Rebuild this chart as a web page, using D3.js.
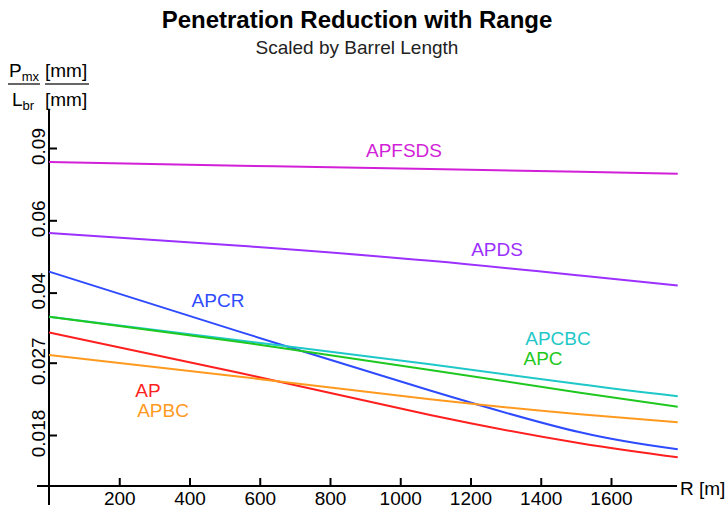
<!DOCTYPE html>
<html><head><meta charset="utf-8">
<script src="https://cdn.jsdelivr.net/npm/d3@7"></script>
<style>body{margin:0;background:#fff}svg{display:block;font-family:"Liberation Sans",Arial,sans-serif}</style>
</head><body>
<svg id="c" width="725" height="505"></svg>
<script>
const ranges = [0, 544, 1085, 1512, 1790];
const seriesNames = ["APFSDS","APDS","APCR","APCBC","APC","AP","APBC"];
const APFSDS = [0.0832, 0.0815, 0.0800, 0.0788, 0.0779];
const APDS   = [0.0559, 0.0520, 0.0478, 0.0440, 0.0416];
const APCR   = [0.0450, 0.0321, 0.0231, 0.01827, 0.01661];
const APCBC  = [0.03495, 0.03058, 0.02676, 0.02392, 0.02236];
const APC    = [0.03495, 0.03032, 0.02592, 0.02282, 0.0211];
const AP     = [0.0320, 0.02548, 0.02014, 0.01718, 0.01588];
const APBC   = [0.02819, 0.02496, 0.02199, 0.02022, 0.01933];
const xTicks = [200,400,600,800,1000,1200,1400,1600];
const yTicks = [0.018,0.027,0.04,0.06,0.09];
const yTickLabels = ["0.018","0.027","0.04","0.06","0.09"];
const colors = {APFSDS:"#d21fd8",APDS:"#9b30ff",APCR:"#2e4bff",APCBC:"#1fc8c8",APC:"#1fc81f",AP:"#ff1f1f",APBC:"#ff9a1f"};
const labelPos = {APFSDS:[404,157],APDS:[497,256],APCR:[218,307],APCBC:[558,345],APC:[543,365],AP:[148,397],APBC:[163,417]};
const data = {APFSDS,APDS,APCR,APCBC,APC,AP,APBC};

const svg = d3.select("#c");
const x = d3.scaleLinear().domain([0,1600]).range([49,611]);
const y = d3.scaleLog().domain([0.018,0.09]).range([435,148]);

// title
svg.append("text").attr("x",357).attr("y",28).attr("text-anchor","middle")
  .attr("font-size",24).attr("font-weight","bold").text("Penetration Reduction with Range");
svg.append("text").attr("x",357).attr("y",54).attr("text-anchor","middle")
  .attr("font-size",19).attr("fill","#222").text("Scaled by Barrel Length");

// y label fraction
const yl = svg.append("g").attr("font-size",19);
const t1 = yl.append("text").attr("x",9).attr("y",77);
t1.append("tspan").text("P");
t1.append("tspan").attr("font-size",13).attr("dy",4).text("mx");
yl.append("text").attr("x",45).attr("y",77).text("[mm]");
const t2 = yl.append("text").attr("x",12).attr("y",106);
t2.append("tspan").text("L");
t2.append("tspan").attr("font-size",13).attr("dy",4).text("br");
yl.append("text").attr("x",45).attr("y",106).text("[mm]");
yl.append("line").attr("x1",8).attr("x2",40).attr("y1",84).attr("y2",84).attr("stroke","#333").attr("stroke-width",1.5);
yl.append("line").attr("x1",45).attr("x2",89).attr("y1",84).attr("y2",84).attr("stroke","#333").attr("stroke-width",1.5);

// axes
const xAxis = d3.axisBottom(x).tickValues(xTicks).tickSize(-8).tickPadding(0).tickFormat(d3.format("d"));
const gx = svg.append("g").attr("transform","translate(0,486)").call(xAxis);
gx.select(".domain").remove();
gx.append("line").attr("x1",37).attr("x2",677).attr("stroke","#000").attr("stroke-width",2);
gx.selectAll(".tick line").attr("stroke","#000").attr("stroke-width",2);
gx.selectAll(".tick text").attr("font-size",19).attr("fill","#000").attr("y",6).attr("dy","0.71em")
  .attr("font-family","Liberation Sans, Arial, sans-serif");
svg.append("text").attr("x",680).attr("y",495).attr("font-size",19).text("R [m]");

const yAxis = d3.axisRight(y).tickValues(yTicks).tickSize(8).tickFormat((d,i)=>yTickLabels[i]);
const gy = svg.append("g").attr("transform","translate(49,0)").call(yAxis);
gy.select(".domain").remove();
gy.append("line").attr("y1",110).attr("y2",505).attr("stroke","#000").attr("stroke-width",2);
gy.selectAll(".tick line").attr("stroke","#000").attr("stroke-width",2);
gy.selectAll(".tick text").attr("font-size",19).attr("fill","#000")
  .attr("x",0).attr("dy",0).attr("text-anchor","middle")
  .attr("transform","translate(-4,-2) rotate(-90)")
  .attr("font-family","Liberation Sans, Arial, sans-serif");

// lines
const line = d3.line().x((d,i)=>x(ranges[i])).y(d=>y(d)).curve(d3.curveNatural);
seriesNames.forEach(n=>{
  svg.append("path").datum(data[n]).attr("d",line).attr("fill","none")
    .attr("stroke",colors[n]).attr("stroke-width",2);
  svg.append("text").attr("x",labelPos[n][0]).attr("y",labelPos[n][1]).attr("text-anchor","middle")
    .attr("font-size",19).attr("fill",colors[n]).text(n);
});
</script>
</body></html>
